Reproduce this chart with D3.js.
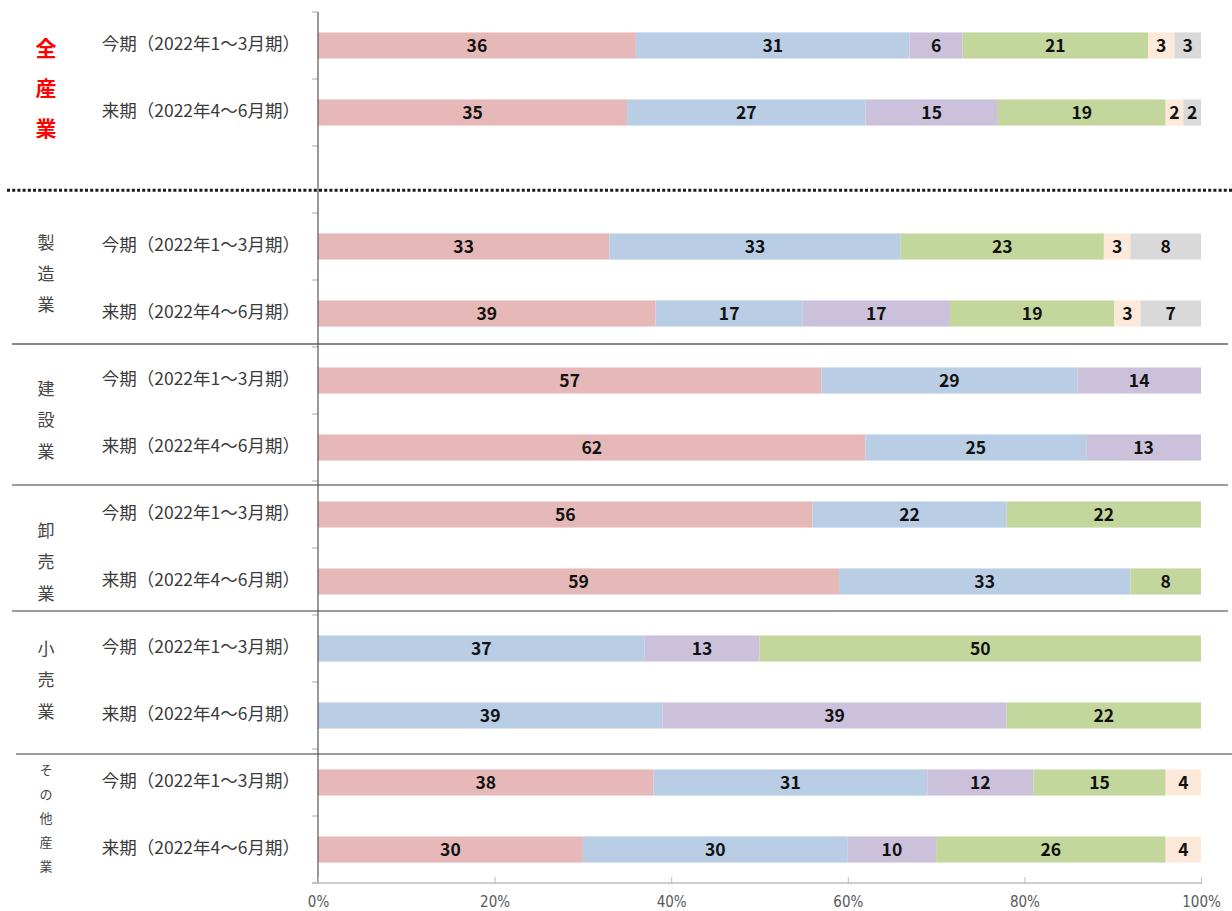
<!DOCTYPE html>
<html lang="ja">
<head>
<meta charset="utf-8">
<script src="https://cdn.jsdelivr.net/npm/d3@7"></script>
<style>
  html, body { margin: 0; padding: 0; background: #fff; }
  svg { display: block; }
</style>
</head>
<body>
<svg id="chart" width="1232" height="911"></svg>
<script>
// Industry groups (each has a current-quarter row and a next-quarter row)
const groups = ['全産業', '製造業', '建設業', '卸売業', '小売業', 'その他産業'];
const periodLabels = ['今期（2022年1～3月期）', '来期（2022年4～6月期）'];

// Answer shares per row, in row order:
// 全産業 今/来, 製造業 今/来, 建設業 今/来, 卸売業 今/来, 小売業 今/来, その他産業 今/来
const seriesKeys = ['s1', 's2', 's3', 's4', 's5', 's6'];
const s1 = [36, 35, 33, 39, 57, 62, 56, 59, 0, 0, 38, 30];
const s2 = [31, 27, 33, 17, 29, 25, 22, 33, 37, 39, 31, 30];
const s3 = [6, 15, 0, 17, 14, 13, 0, 0, 13, 39, 12, 10];
const s4 = [21, 19, 23, 19, 0, 0, 22, 8, 50, 22, 15, 26];
const s5 = [3, 2, 3, 3, 0, 0, 0, 0, 0, 0, 4, 4];
const s6 = [3, 2, 8, 7, 0, 0, 0, 0, 0, 0, 0, 0];
const seriesColors = ['#e6b9b8', '#b9cde5', '#ccc1da', '#c3d69b', '#fde9d9', '#d9d9d9'];

const xTicks = [0, 0.2, 0.4, 0.6, 0.8, 1];

(function draw() {
  // ---- build rows ----
  const seriesVals = [s1, s2, s3, s4, s5, s6];
  const rows = [];
  groups.forEach((g, gi) => {
    periodLabels.forEach((p, pi) => {
      const idx = gi * 2 + pi;
      const r = { key: g + '|' + pi, group: g, period: p };
      seriesKeys.forEach((k, ki) => { r[k] = seriesVals[ki][idx]; });
      rows.push(r);
    });
  });
  // an empty slot follows the all-industry block
  const slotKeys = [rows[0].key, rows[1].key, 'spacer', ...rows.slice(2).map(r => r.key)];

  const svg = d3.select('#chart');
  const plotL = 318, plotR = 1201, plotT = 12, plotB = 883;

  const x = d3.scaleLinear().domain([0, 1]).range([plotL, plotR]);
  const y = d3.scaleBand().domain(slotKeys).range([plotT, plotB])
    .paddingInner(0.61).paddingOuter(0.305);
  const step = y.step();
  const half = (step - y.bandwidth()) / 2;
  const slotTop = k => y(k) - half;

  // ---- separators between industry blocks ----
  const sepLayer = svg.append('g');
  const dotY = slotTop('spacer') + step * 0.66;
  sepLayer.append('line')
    .attr('x1', 7).attr('x2', 1232)
    .attr('y1', dotY).attr('y2', dotY)
    .attr('stroke', '#1a1a1a').attr('stroke-width', 3)
    .attr('stroke-dasharray', '3,2.2');

  // solid rules between later groups, nudged off the slot boundary
  const solidSeps = [
    { after: 3, dy: -3, x1: 12, x2: 1228, color: '#8a8a8a', w: 2 },
    { after: 5, dy: 4, x1: 12, x2: 1228, color: '#3a3a3a', w: 1.2 },
    { after: 7, dy: -4, x1: 12, x2: 1228, color: '#3a3a3a', w: 1.2 },
    { after: 9, dy: 5, x1: 16, x2: 1232, color: '#3a3a3a', w: 1.2 }
  ];
  solidSeps.forEach(s => {
    const yy = slotTop(rows[s.after].key) + step + s.dy;
    sepLayer.append('line')
      .attr('x1', s.x1).attr('x2', s.x2).attr('y1', yy).attr('y2', yy)
      .attr('stroke', s.color).attr('stroke-width', s.w);
  });

  // ---- stacked 100% bars ----
  const stack = d3.stack().keys(seriesKeys).offset(d3.stackOffsetExpand);
  const stacked = stack(rows);

  const barLayer = svg.append('g');
  stacked.forEach((layer, li) => {
    barLayer.append('g').attr('fill', seriesColors[li])
      .selectAll('rect')
      .data(layer.filter(d => d.data[seriesKeys[li]] > 0))
      .join('rect')
      .attr('x', d => x(d[0]))
      .attr('width', d => x(d[1]) - x(d[0]))
      .attr('y', d => y(d.data.key))
      .attr('height', y.bandwidth());
  });

  // value labels
  const labelLayer = svg.append('g')
    .attr('font-family', '"Noto Sans CJK JP", "Noto Sans", sans-serif')
    .attr('font-size', 17.5).attr('font-weight', 600)
    .attr('fill', '#111').attr('text-anchor', 'middle');
  stacked.forEach((layer, li) => {
    labelLayer.append('g').selectAll('text')
      .data(layer.filter(d => d.data[seriesKeys[li]] > 0))
      .join('text')
      .attr('x', d => (x(d[0]) + x(d[1])) / 2)
      .attr('y', d => y(d.data.key) + y.bandwidth() / 2)
      .attr('dy', '0.36em')
      .text(d => d.data[seriesKeys[li]]);
  });

  // ---- category axis (vertical) ----
  const axisLayer = svg.append('g');
  for (let i = 0; i <= slotKeys.length; i++) {
    const yy = plotT + step * i;
    axisLayer.append('line')
      .attr('x1', plotL - 6).attr('x2', plotL).attr('y1', yy).attr('y2', yy)
      .attr('stroke', '#aaaaaa').attr('stroke-width', 1);
  }
  axisLayer.append('line')
    .attr('x1', plotL).attr('x2', plotL).attr('y1', plotT).attr('y2', plotB)
    .attr('stroke', '#555555').attr('stroke-width', 1.2);

  // period labels
  svg.append('g')
    .attr('font-family', '"Noto Sans CJK JP", sans-serif')
    .attr('font-size', 17.5).attr('fill', '#3a3a3a').attr('text-anchor', 'end')
    .selectAll('text').data(rows).join('text')
    .attr('x', 300)
    .attr('y', d => y(d.key) + y.bandwidth() / 2 - 1.5)
    .attr('dy', '0.35em')
    .text(d => d.period);

  // industry labels, written vertically one character per line
  const groupStyle = [
    { size: 21, color: '#ff0000', weight: 700, gap: 40, dy: 9 },
    { size: 17, color: '#444444', weight: 400, gap: 31, dy: -6 },
    { size: 17, color: '#444444', weight: 400, gap: 31.5, dy: 6 },
    { size: 17, color: '#444444', weight: 400, gap: 31.5, dy: 14 },
    { size: 17, color: '#444444', weight: 400, gap: 31.5, dy: -2 },
    { size: 13, color: '#444444', weight: 400, gap: 24, dy: 2 }
  ];
  const groupLayer = svg.append('g')
    .attr('font-family', '"Noto Sans CJK JP", sans-serif')
    .attr('text-anchor', 'middle');
  groups.forEach((g, gi) => {
    const st = groupStyle[gi];
    const r0 = rows[gi * 2], r1 = rows[gi * 2 + 1];
    const cy = (y(r0.key) + y(r1.key) + y.bandwidth()) / 2 + st.dy;
    const chars = Array.from(g);
    const t = groupLayer.append('text')
      .attr('font-size', st.size).attr('font-weight', st.weight).attr('fill', st.color);
    chars.forEach((c, ci) => {
      t.append('tspan')
        .attr('x', 46)
        .attr('y', cy + (ci - (chars.length - 1) / 2) * st.gap)
        .attr('dy', '0.36em')
        .text(c);
    });
  });

  // ---- value axis (horizontal) ----
  const xAxis = d3.axisBottom(x).tickValues(xTicks).tickFormat(d3.format('.0%'))
    .tickSize(0).tickPadding(13);
  const xg = svg.append('g').attr('transform', `translate(0,${plotB})`).call(xAxis);
  xg.select('.domain').attr('stroke', '#bdbdbd').attr('stroke-width', 1.5)
    .attr('d', `M${plotL - 6},0H${plotR}`);
  xg.selectAll('.tick').append('line')
    .attr('y1', -6).attr('y2', 1).attr('stroke', '#bdbdbd').attr('stroke-width', 1);
  xg.selectAll('.tick text')
    .attr('font-family', '"Liberation Sans Narrow", "DejaVu Sans Condensed", sans-serif')
    .attr('font-size', 15).attr('fill', '#595959');
})();
</script>
</body>
</html>
